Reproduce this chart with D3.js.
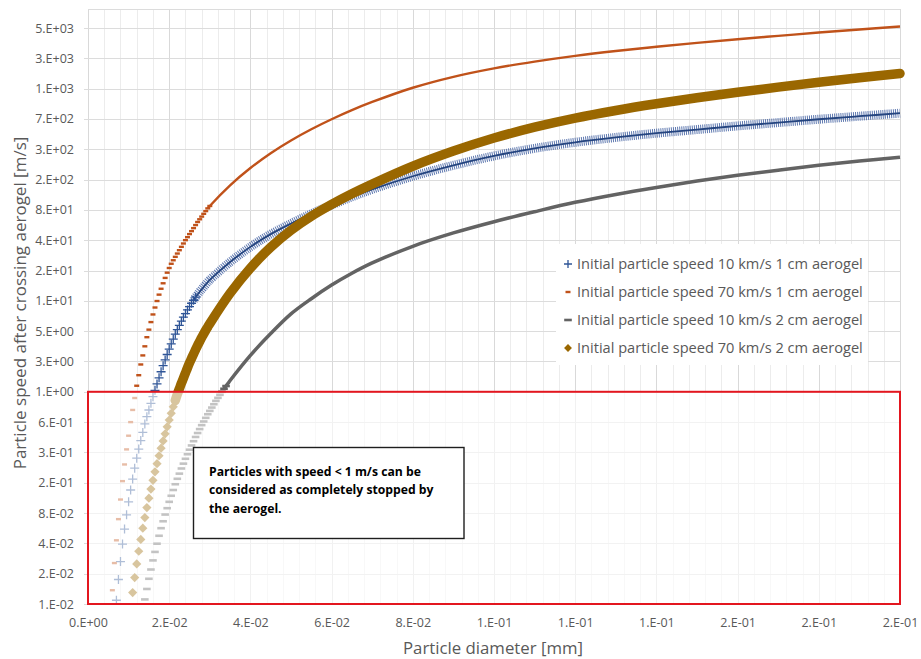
<!DOCTYPE html>
<html lang="en">
<head>
<meta charset="UTF-8">
<title>Particle speed after crossing aerogel</title>
<script src="https://d3js.org/d3.v7.min.js"></script>
<style>
    body { margin: 0; background: #fff; }
    text { font-family: "Open Sans", "Noto Sans", sans-serif; }
</style>
</head>
<body>
<svg id="chart" width="921" height="659"></svg>
<script>
// values: diameter in mm, speed in m/s

// Initial particle speed 10 km/s, 1 cm aerogel
var diam10k1 = [0.0070, 0.0075, 0.0080, 0.0085, 0.0090, 0.0095, 0.0100, 0.0105, 0.0110, 0.0115,
    0.0120, 0.0125, 0.0130, 0.0135, 0.0140, 0.0145, 0.0150, 0.0155, 0.0160, 0.0165,
    0.0170, 0.0175, 0.0180, 0.0185, 0.0190, 0.0195, 0.0200, 0.0205, 0.0210, 0.0215,
    0.0220, 0.0225, 0.0230, 0.0235, 0.0240, 0.0245, 0.0250, 0.0255, 0.0260, 0.0265,
    0.0270, 0.0275, 0.0280, 0.0285, 0.0290, 0.0295, 0.0300,
    0.035, 0.040, 0.045, 0.050, 0.055, 0.060, 0.065, 0.070,
    0.08, 0.09, 0.10, 0.11, 0.12, 0.13, 0.14, 0.15, 0.16, 0.17, 0.18, 0.19, 0.20];
var speed10k1 = [0.0109, 0.0175, 0.0264, 0.0394, 0.0554, 0.0768, 0.1034, 0.1355, 0.1739, 0.2232,
    0.2805, 0.3453, 0.4194, 0.5056, 0.6140, 0.7251, 0.8445, 0.9836, 1.146, 1.325,
    1.532, 1.761, 2.023, 2.324, 2.650, 3.002, 3.401, 3.827, 4.276, 4.777,
    5.301, 5.841, 6.436, 7.043, 7.653, 8.317, 8.976, 9.688, 10.38, 11.13,
    11.84, 12.61, 13.33, 14.09, 14.89, 15.74, 16.52,
    24.87, 35.17, 47.05, 59.97, 74.86, 91.53, 110.4, 131.2,
    176.8, 226.9, 281.3, 334.6, 384.3, 429.5, 473.1, 514.2, 558.8, 603.1, 650.8, 697.6, 747.6];

// Initial particle speed 70 km/s, 1 cm aerogel
var diam70k1 = [0.0060, 0.0065, 0.0070, 0.0075, 0.0080, 0.0085, 0.0090, 0.0095, 0.0100, 0.0105,
    0.0110, 0.0115, 0.0120, 0.0125, 0.0130, 0.0135, 0.0140, 0.0145, 0.0150, 0.0155,
    0.0160, 0.0165, 0.0170, 0.0175, 0.0180, 0.0185, 0.0190, 0.0195, 0.0200, 0.0205,
    0.0210, 0.0215, 0.0220, 0.0225, 0.0230, 0.0235, 0.0240, 0.0245, 0.0250, 0.0255,
    0.0260, 0.0265, 0.0270, 0.0275, 0.0280, 0.0285, 0.0290, 0.0295, 0.0300,
    0.035, 0.040, 0.045, 0.050, 0.055, 0.060, 0.065, 0.070,
    0.08, 0.09, 0.10, 0.11, 0.12, 0.13, 0.14, 0.15, 0.16, 0.17, 0.18, 0.19, 0.20];
var speed70k1 = [0.0137, 0.0255, 0.0429, 0.0696, 0.109, 0.166, 0.243, 0.343, 0.469, 0.640,
    0.845, 1.11, 1.47, 1.87, 2.39, 2.94, 3.62, 4.46, 5.30, 6.30,
    7.50, 8.79, 10.2, 11.8, 13.5, 15.3, 17.3, 19.5, 21.7, 23.9,
    25.9, 28.0, 30.2, 32.6, 35.2, 38.0, 41.0, 43.9, 47.1, 50.4,
    54.0, 57.9, 62.1, 66.1, 70.3, 74.9, 79.7, 84.8, 89.6,
    143.6, 213.2, 299.4, 400.6, 517.8, 650.8, 801.3, 966.2,
    1338, 1718, 2085, 2429, 2771, 3096, 3411, 3733, 4057, 4378, 4725, 5064, 5428];

// Initial particle speed 10 km/s, 2 cm aerogel
var diam10k2 = [0.0140, 0.0145, 0.0150, 0.0155, 0.0160, 0.0165, 0.0170, 0.0175, 0.0180, 0.0185,
    0.0190, 0.0195, 0.0200, 0.0205, 0.0210, 0.0215, 0.0220, 0.0225, 0.0230, 0.0235,
    0.0240, 0.0245, 0.0250, 0.0255, 0.0260, 0.0265, 0.0270, 0.0275, 0.0280, 0.0285,
    0.0290, 0.0295, 0.0300, 0.0305, 0.0310, 0.0315, 0.0320, 0.0325, 0.0330, 0.0335,
    0.0340, 0.0345, 0.0350,
    0.040, 0.045, 0.050, 0.055, 0.060, 0.065, 0.070,
    0.08, 0.09, 0.10, 0.11, 0.12, 0.13, 0.14, 0.15, 0.16, 0.17, 0.18, 0.19, 0.20];
var speed10k2 = [0.0111, 0.0141, 0.0178, 0.0220, 0.0271, 0.0329, 0.0397, 0.0476, 0.0566, 0.0663,
    0.0773, 0.0894, 0.1034, 0.1188, 0.1355, 0.1546, 0.1751, 0.1970, 0.2216, 0.2476,
    0.2767, 0.3070, 0.3406, 0.3753, 0.4136, 0.4557, 0.4987, 0.5457, 0.5972, 0.6490,
    0.7052, 0.7664, 0.8271, 0.8926, 0.9633, 1.040, 1.114, 1.194, 1.280, 1.372,
    1.460, 1.554, 1.655,
    2.941, 4.844, 7.601, 10.75, 14.68, 19.24, 24.35,
    35.66, 48.37, 62.52, 78.58, 97.42, 116.7, 136.8, 158.3, 180.5, 203.1, 226.9, 250.1, 273.7];

// Initial particle speed 70 km/s, 2 cm aerogel
var diam70k2 = [0.0110, 0.0115, 0.0120, 0.0125, 0.0130, 0.0135, 0.0140, 0.0145, 0.0150, 0.0155,
    0.0160, 0.0165, 0.0170, 0.0175, 0.0180, 0.0185, 0.0190, 0.0195, 0.0200, 0.0205,
    0.0210, 0.0215, 0.0220, 0.0225, 0.0230, 0.0235, 0.0240, 0.0245, 0.0250, 0.0255,
    0.0260, 0.0265, 0.0270, 0.0275, 0.0280, 0.0285, 0.0290, 0.0295, 0.0300,
    0.035, 0.040, 0.045, 0.050, 0.055, 0.060, 0.065, 0.070,
    0.08, 0.09, 0.10, 0.11, 0.12, 0.13, 0.14, 0.15, 0.16, 0.17, 0.18, 0.19, 0.20];
var speed70k2 = [0.0130, 0.0183, 0.0250, 0.0334, 0.0438, 0.0566, 0.0721, 0.0906, 0.1124, 0.1383,
    0.1691, 0.2053, 0.2476, 0.2965, 0.3526, 0.4164, 0.4901, 0.5748, 0.6718, 0.7825,
    0.9082, 1.051, 1.211, 1.372, 1.554, 1.748, 1.967, 2.213, 2.473, 2.744,
    3.044, 3.355, 3.696, 4.045, 4.427, 4.810, 5.227, 5.642, 6.089,
    12.18, 21.65, 34.92, 51.49, 70.82, 92.81, 118.3, 147.7,
    222.3, 314.3, 423.5, 543.5, 669.1, 795.7, 926.8, 1065, 1206, 1357, 1516, 1682, 1854];

var seriesNames = ["Initial particle speed 10 km/s 1 cm aerogel",
    "Initial particle speed 70 km/s 1 cm aerogel",
    "Initial particle speed 10 km/s 2 cm aerogel",
    "Initial particle speed 70 km/s 2 cm aerogel"];

var xTicks = [0, 0.02, 0.04, 0.06, 0.08, 0.10, 0.12, 0.14, 0.16, 0.18, 0.20];
var xTickLabels = ["0.E+00", "2.E-02", "4.E-02", "6.E-02", "8.E-02", "1.E-01", "1.E-01", "1.E-01", "2.E-01", "2.E-01", "2.E-01"];
var yTicks = [0.01, 0.02, 0.04, 0.08, 0.16, 0.32, 0.64, 1.28, 2.56, 5.12, 10.24, 20.48, 40.96,
    81.92, 163.84, 327.68, 655.36, 1310.72, 2621.44, 5242.88];
var yTickLabels = ["1.E-02", "2.E-02", "4.E-02", "8.E-02", "2.E-01", "3.E-01", "6.E-01", "1.E+00", "3.E+00", "5.E+00",
    "1.E+01", "2.E+01", "4.E+01", "8.E+01", "2.E+02", "3.E+02", "7.E+02", "1.E+03", "3.E+03", "5.E+03"];

var stoppedSpeed = 1.28;   // the 1.E+00 grid line, top of the red box
var noteLines = ["Particles with speed < 1 m/s can be", "considered as completely stopped by", "the aerogel."];

// ---- layout ----
var left = 88, right = 900, plotTop = 9, bottom = 604;
var svg = d3.select("#chart");

var x = d3.scaleLinear().domain([0, 0.2]).range([left, right]);
var y = d3.scaleLog().base(2).domain([0.01, 5242.88]).range([bottom, 28]);

// grid
var grid = svg.append("g");
grid.selectAll(".minor").data(d3.range(0, 51).map(function(i) { return i * 0.004; }))
    .enter().append("line")
    .attr("x1", function(d) { return Math.round(x(d)) + 0.5; })
    .attr("x2", function(d) { return Math.round(x(d)) + 0.5; })
    .attr("y1", plotTop).attr("y2", bottom)
    .attr("stroke", "#ececec");
grid.selectAll(".major").data(xTicks).enter().append("line")
    .attr("x1", function(d) { return Math.round(x(d)) + 0.5; })
    .attr("x2", function(d) { return Math.round(x(d)) + 0.5; })
    .attr("y1", plotTop).attr("y2", bottom)
    .attr("stroke", "#d9d9d9");
grid.selectAll(".hline").data(yTicks).enter().append("line")
    .attr("x1", left - 4).attr("x2", right)
    .attr("y1", function(d) { return Math.round(y(d)) + 0.5; })
    .attr("y2", function(d) { return Math.round(y(d)) + 0.5; })
    .attr("stroke", "#dcdcdc");
grid.append("line").attr("x1", left).attr("x2", right)
    .attr("y1", plotTop + 0.5).attr("y2", plotTop + 0.5).attr("stroke", "#dcdcdc");

// axes (labels only, grid drawn above)
var yAxis = d3.axisLeft(y).tickValues(yTicks)
    .tickFormat(function(d, i) { return yTickLabels[i]; })
    .tickSize(0).tickPadding(14);
var xAxis = d3.axisBottom(x).tickValues(xTicks)
    .tickFormat(function(d, i) { return xTickLabels[i]; })
    .tickSize(0).tickPadding(14);

svg.append("g").attr("transform", "translate(" + left + ",0)").call(yAxis)
    .call(function(g) { g.select(".domain").remove(); })
    .selectAll("text").attr("fill", "#595959").style("font-size", "12.5px")
    .style("font-family", "'Open Sans', sans-serif");
svg.append("g").attr("transform", "translate(0," + bottom + ")").call(xAxis)
    .call(function(g) { g.select(".domain").remove(); })
    .selectAll("text").attr("fill", "#595959").style("font-size", "12.5px")
    .style("font-family", "'Open Sans', sans-serif");

// axis titles
svg.append("text").attr("x", 493).attr("y", 654).attr("text-anchor", "middle")
    .attr("fill", "#595959").style("font-size", "16.8px")
    .text("Particle diameter [mm]");
svg.append("text").attr("transform", "translate(26,303) rotate(-90)").attr("text-anchor", "middle")
    .attr("fill", "#595959").style("font-size", "17px")
    .text("Particle speed after  crossing aerogel [m/s]");

// series
var marks = {
    plus: "M-4.5,0H4.5M0,-4.5V4.5",
    dash: "M-2.5,-1.2H2.5V1.2H-2.5Z",
    bar: "M-3.8,-1.3H3.8V1.3H-3.8Z",
    diamond: "M0,-4.6L4.6,0L0,4.6L-4.6,0Z"
};
var series = [
    { name: seriesNames[0], d: diam10k1, v: speed10k1, color: "#2f5597", mark: "plus", from: 0.026 },
    { name: seriesNames[1], d: diam70k1, v: speed70k1, color: "#c0521a", mark: "dash", from: 0.0295 },
    { name: seriesNames[2], d: diam10k2, v: speed10k2, color: "#636363", mark: "bar", from: 0.0335 },
    { name: seriesNames[3], d: diam70k2, v: speed70k2, color: "#9a6700", mark: "diamond", from: 0.0215 }
];

var line = d3.line()
    .x(function(p) { return x(p[0]); })
    .y(function(p) { return y(p[1]); })
    .curve(d3.curveCatmullRom.alpha(0.5));

series.forEach(function(s) {
    var pts = s.d.map(function(d, i) { return [d, s.v[i]]; });
    var dense = pts.filter(function(p) { return p[0] >= s.from; });
    var sparse = pts.filter(function(p) { return p[0] < s.from + 0.0006; });
    var g = svg.append("g");

    // where the markers overlap they read as a solid band
    if (s.mark === "plus") {
        g.append("path").attr("d", line(dense)).attr("fill", "none")
            .attr("stroke", "#5f79b0").attr("stroke-width", 9).attr("stroke-dasharray", "1 1.1");
        g.append("path").attr("d", line(dense)).attr("fill", "none")
            .attr("stroke", "#24447f").attr("stroke-width", 1.8);
    } else if (s.mark === "diamond") {
        g.append("path").attr("d", line(dense)).attr("fill", "none")
            .attr("stroke", s.color).attr("stroke-width", 9.5).attr("stroke-linecap", "round");
    } else if (s.mark === "bar") {
        g.append("path").attr("d", line(dense)).attr("fill", "none")
            .attr("stroke", s.color).attr("stroke-width", 3.5);
    } else {
        g.append("path").attr("d", line(dense)).attr("fill", "none")
            .attr("stroke", s.color).attr("stroke-width", 2.4);
    }

    g.selectAll(".m").data(sparse).enter().append("path")
        .attr("transform", function(p) { return "translate(" + x(p[0]) + "," + y(p[1]) + ")"; })
        .attr("d", marks[s.mark])
        .attr("fill", s.mark === "plus" ? "none" : s.color)
        .attr("stroke", s.mark === "plus" ? s.color : "none")
        .attr("stroke-width", 1.3);
});

// red box: everything slower than 1 m/s is faded
var boxTop = y(stoppedSpeed);
svg.append("rect").attr("x", left).attr("y", boxTop)
    .attr("width", right - left).attr("height", bottom - boxTop)
    .attr("fill", "#fff").attr("fill-opacity", 0.62);
svg.append("rect").attr("x", left).attr("y", boxTop)
    .attr("width", right - left).attr("height", bottom - boxTop)
    .attr("fill", "none").attr("stroke", "#e3161f").attr("stroke-width", 2);

// note
var note = svg.append("g");
note.append("rect").attr("x", 193.5).attr("y", 447.5).attr("width", 270.5).attr("height", 91)
    .attr("fill", "#fff").attr("stroke", "#1e1e1e").attr("stroke-width", 1.4);
note.selectAll("text").data(noteLines).enter().append("text")
    .attr("x", 209).attr("y", function(d, i) { return 476 + i * 18.4; })
    .attr("fill", "#000").style("font-size", "12.2px").style("font-weight", "bold")
    .text(function(d) { return d; });

// legend
var legend = svg.append("g");
legend.append("rect").attr("x", 556).attr("y", 244).attr("width", 312).attr("height", 121).attr("fill", "#fff");
var item = legend.selectAll(".item").data(series).enter().append("g")
    .attr("transform", function(d, i) { return "translate(568," + (264 + i * 28) + ")"; });
item.append("path")
    .attr("d", function(s) { return s.mark === "plus" ? "M-4,0H4M0,-4V4" : marks[s.mark]; })
    .attr("transform", function(s) { return s.mark === "diamond" ? "scale(0.85)" : null; })
    .attr("fill", function(s) { return s.mark === "plus" ? "none" : s.color; })
    .attr("stroke", function(s) { return s.mark === "plus" ? s.color : "none"; })
    .attr("stroke-width", 1.3);
item.append("text").attr("x", 9).attr("dy", "0.35em")
    .attr("fill", "#595959").style("font-size", "14.6px")
    .text(function(s) { return s.name; });
</script>
</body>
</html>
